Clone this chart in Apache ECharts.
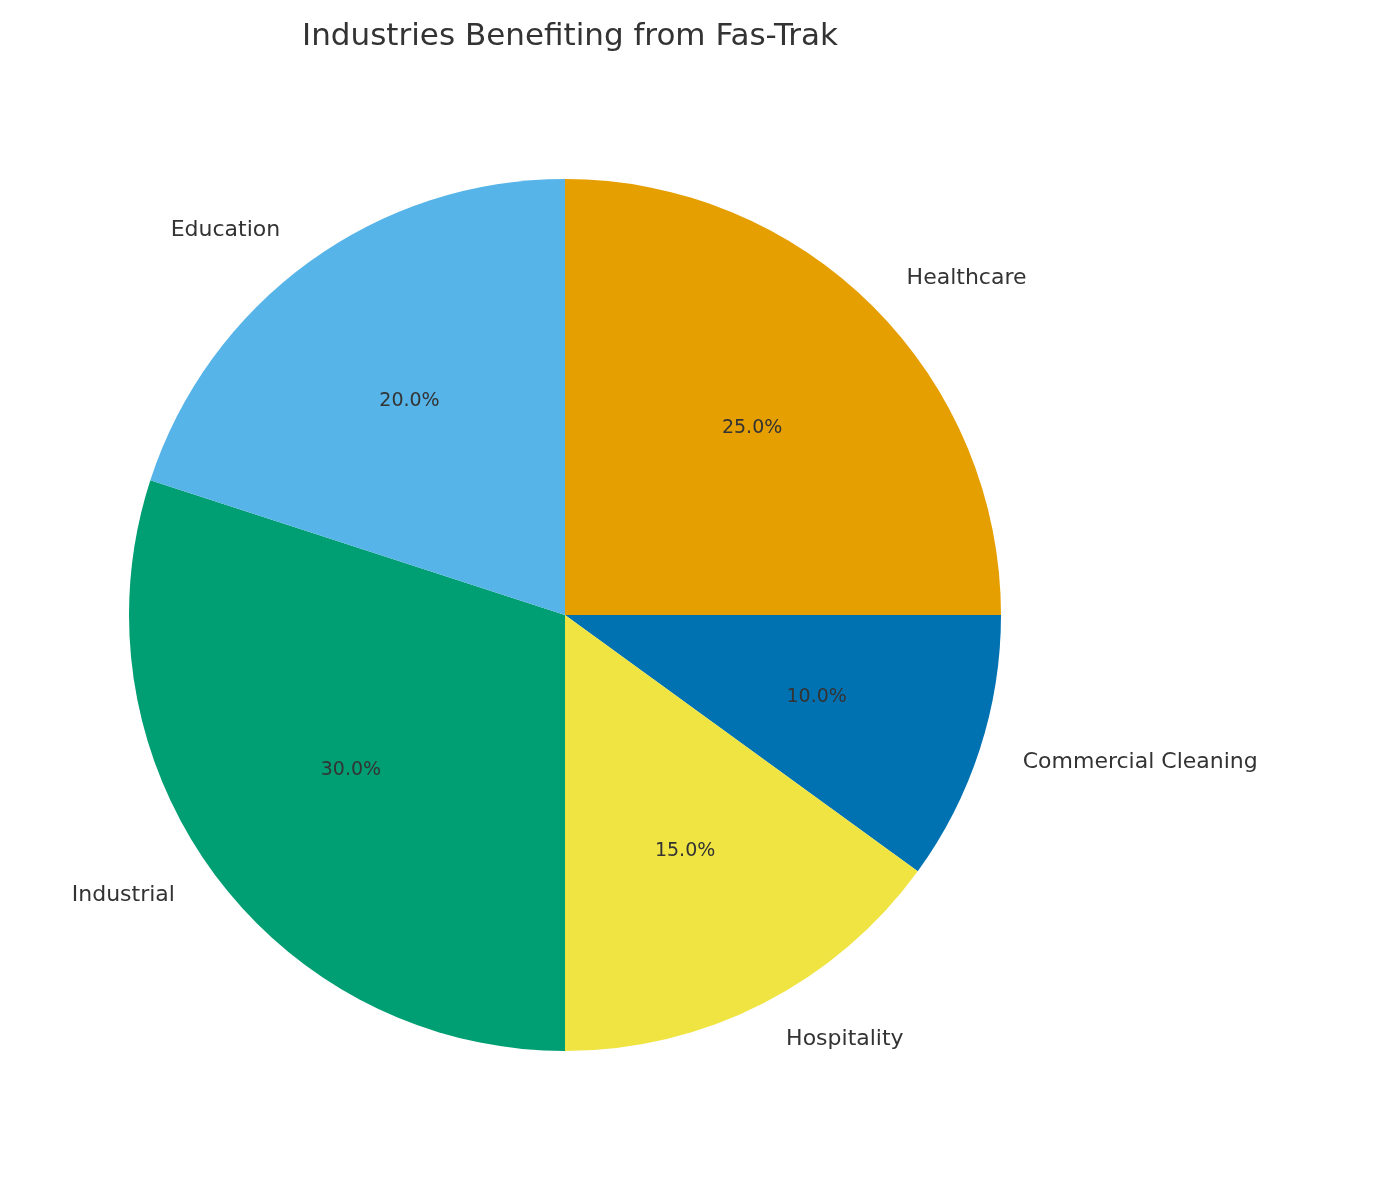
<!DOCTYPE html>
<html>
<head>
<meta charset="utf-8">
<script src="https://cdn.jsdelivr.net/npm/echarts@6/dist/echarts.min.js"></script>
<style>html,body{margin:0;background:#fff}#chart{width:1397px;height:1180px}</style>
</head>
<body>
<div id="chart"></div>
<script>
// 数据
const categories = ['Healthcare', 'Commercial Cleaning', 'Hospitality', 'Industrial', 'Education'];
const shares = [25, 10, 15, 30, 20];
const colors = ['#E69F00', '#0072B2', '#F0E442', '#009E73', '#56B4E9'];

const R = 436;
const center = [565, 615];
const font = 'DejaVu Sans';

const data = categories.map((name, i) => ({ name, value: shares[i], itemStyle: { color: colors[i] } }));

const chart = echarts.init(document.getElementById('chart'));
chart.setOption({
    animation: false,
    title: {
        text: 'Industries Benefiting from Fas-Trak',
        left: 565, top: 16, textAlign: 'center',
        textStyle: { fontFamily: font, fontSize: 31, fontWeight: 'normal', color: '#333' }
    },
    series: [
        {
            // 扇区 + 外部名称
            type: 'pie', center, radius: [0, R], startAngle: 90, clockwise: true,
            data,
            label: { show: true, position: 'outside', formatter: '{b}', fontFamily: font, fontSize: 22, color: '#333' },
            labelLine: { show: false, length: 40, length2: 0 },
            emphasis: { disabled: true }
        },
        {
            // 百分比标签，放在0.6R处
            type: 'pie', center, radius: [0, R * 1.2], startAngle: 90, clockwise: true,
            data: categories.map((name, i) => ({ name, value: shares[i] })),
            itemStyle: { color: 'rgba(0,0,0,0)' },
            label: { show: true, position: 'inside', formatter: p => p.value.toFixed(1) + '%', fontFamily: font, fontSize: 19, color: '#333' },
            labelLine: { show: false },
            silent: true, z: 3
        }
    ]
});
</script>
</body>
</html>
